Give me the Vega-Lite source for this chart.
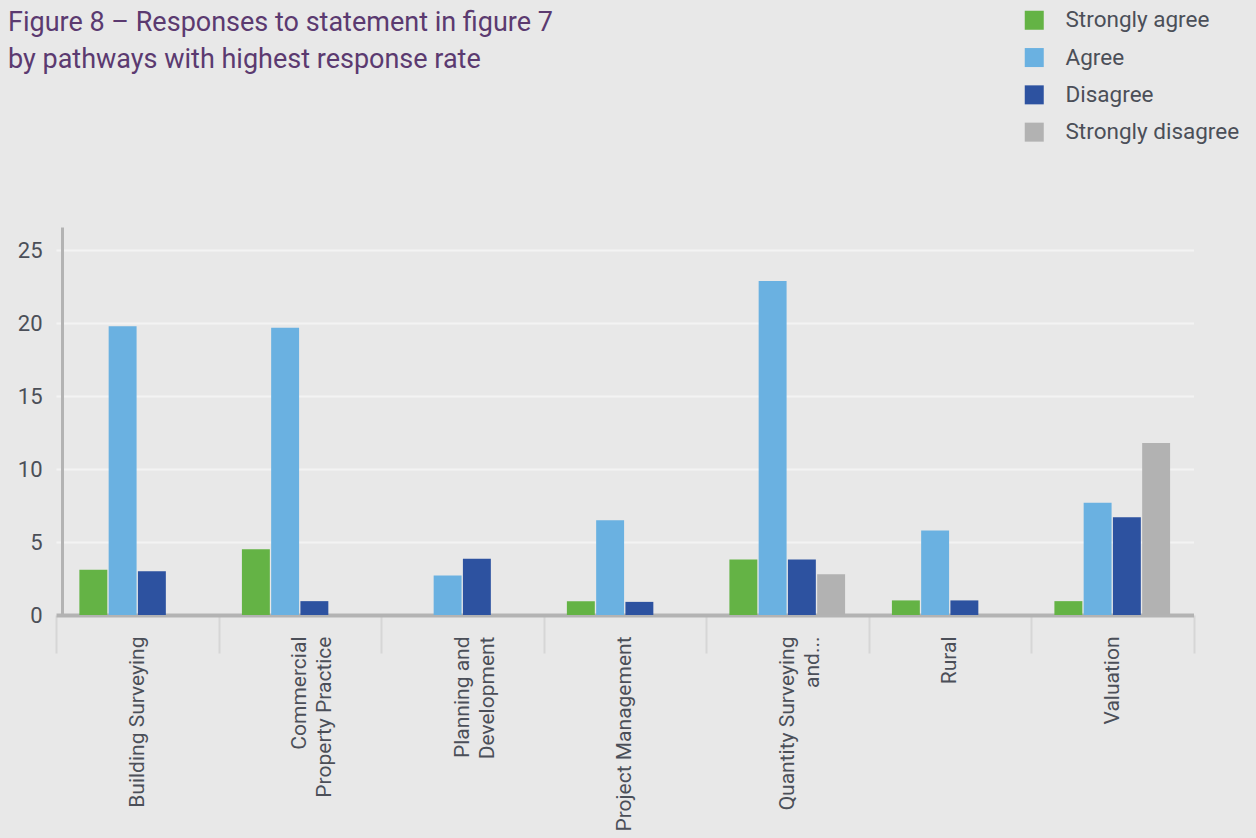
{
  "$schema": "https://vega.github.io/schema/vega-lite/v6.json",
  "autosize": {"type": "none"},
  "width": 1137.5,
  "height": 388,
  "padding": {"left": 56, "top": 227, "right": 62.5, "bottom": 223},
  "background": "#e8e8e8",
  "title": {
    "text": ["Figure 8 – Responses to statement in figure 7", "by pathways with highest response rate"],
    "anchor": "start",
    "frame": "group",
    "orient": "top",
    "dx": -48,
    "dy": 69,
    "font": "Roboto",
    "fontSize": 27,
    "fontWeight": "normal",
    "color": "#5b3a70",
    "lineHeight": 37
  },
  "config": {
    "view": {"stroke": null},
    "font": "Roboto"
  },
  "data": {
    "values": [
      {"pathway": "Building Surveying", "response": "Strongly agree", "count": 3.1},
      {"pathway": "Building Surveying", "response": "Agree", "count": 19.8},
      {"pathway": "Building Surveying", "response": "Disagree", "count": 3.0},
      {"pathway": "Commercial Property Practice", "response": "Strongly agree", "count": 4.5},
      {"pathway": "Commercial Property Practice", "response": "Agree", "count": 19.7},
      {"pathway": "Commercial Property Practice", "response": "Disagree", "count": 0.95},
      {"pathway": "Planning and Development", "response": "Agree", "count": 2.7},
      {"pathway": "Planning and Development", "response": "Disagree", "count": 3.85},
      {"pathway": "Project Management", "response": "Strongly agree", "count": 0.95},
      {"pathway": "Project Management", "response": "Agree", "count": 6.5},
      {"pathway": "Project Management", "response": "Disagree", "count": 0.9},
      {"pathway": "Quantity Surveying and...", "response": "Strongly agree", "count": 3.8},
      {"pathway": "Quantity Surveying and...", "response": "Agree", "count": 22.9},
      {"pathway": "Quantity Surveying and...", "response": "Disagree", "count": 3.8},
      {"pathway": "Quantity Surveying and...", "response": "Strongly disagree", "count": 2.8},
      {"pathway": "Rural", "response": "Strongly agree", "count": 1.0},
      {"pathway": "Rural", "response": "Agree", "count": 5.8},
      {"pathway": "Rural", "response": "Disagree", "count": 1.0},
      {"pathway": "Valuation", "response": "Strongly agree", "count": 0.95},
      {"pathway": "Valuation", "response": "Agree", "count": 7.7},
      {"pathway": "Valuation", "response": "Disagree", "count": 6.7},
      {"pathway": "Valuation", "response": "Strongly disagree", "count": 11.8}
    ]
  },
  "mark": {"type": "bar"},
  "encoding": {
    "x": {
      "field": "pathway",
      "type": "nominal",
      "sort": null,
      "scale": {"paddingInner": 0, "paddingOuter": 0},
      "axis": {
        "title": null,
        "labelAngle": 270,
        "labelAlign": "right",
        "labelBaseline": "middle",
        "labelFontSize": 21,
        "labelColor": "#4b4f58",
        "labelLimit": 400,
        "labelPadding": -17,
        "labelLineHeight": 25,
        "labelExpr": "datum.label == 'Commercial Property Practice' ? ['Commercial', 'Property Practice'] : datum.label == 'Planning and Development' ? ['Planning and', 'Development'] : datum.label == 'Quantity Surveying and...' ? ['Quantity Surveying', 'and...'] : datum.label",
        "tickBand": "extent",
        "tickSize": 38,
        "tickColor": "#d6d6d6",
        "tickWidth": 2,
        "domainColor": "#b3b3b3",
        "domainWidth": 4
      }
    },
    "xOffset": {
      "field": "response",
      "type": "nominal",
      "scale": {"domain": ["Strongly agree", "Agree", "Disagree", "Strongly disagree"], "paddingInner": 0.045, "paddingOuter": 0.8}
    },
    "y": {
      "field": "count",
      "type": "quantitative",
      "scale": {"domain": [0, 26.6], "nice": false},
      "axis": {
        "title": null,
        "values": [0, 5, 10, 15, 20, 25],
        "offset": -6,
        "labelFontSize": 22,
        "labelColor": "#4b4f58",
        "labelPadding": 20,
        "ticks": false,
        "domainColor": "#b3b3b3",
        "domainWidth": 3,
        "gridColor": "#f3f3f3",
        "gridWidth": 2
      }
    },
    "color": {
      "field": "response",
      "type": "nominal",
      "scale": {
        "domain": ["Strongly agree", "Agree", "Disagree", "Strongly disagree"],
        "range": ["#64b345", "#6ab1e1", "#2d52a0", "#b2b2b2"]
      },
      "legend": {
        "title": null,
        "orient": "none",
        "legendX": 967,
        "legendY": -218,
        "padding": 0,
        "symbolType": "square",
        "symbolSize": 361,
        "symbolStrokeWidth": 0,
        "symbolOpacity": 1,
        "labelFontSize": 22.5,
        "labelColor": "#4b4f58",
        "labelOffset": 20,
        "rowPadding": 14.3,
        "labelLimit": 300
      }
    }
  }
}
